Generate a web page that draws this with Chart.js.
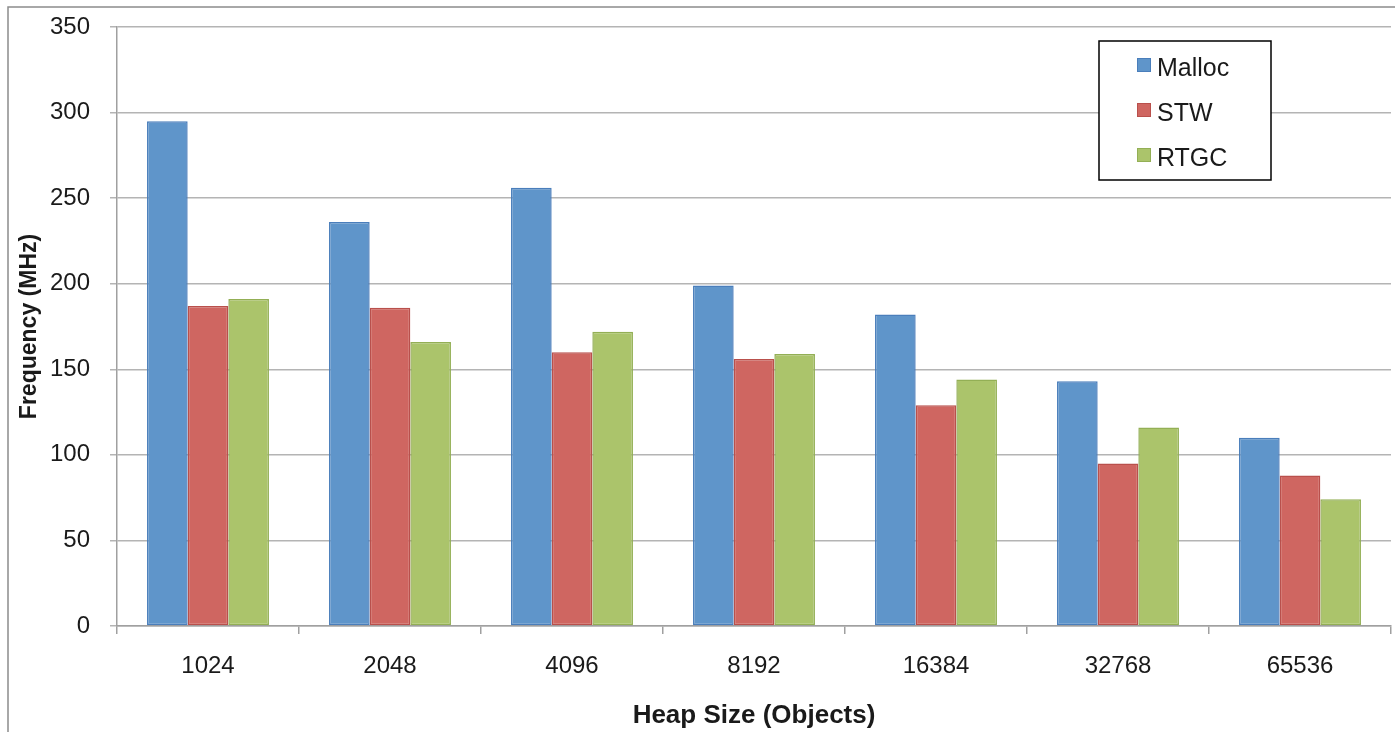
<!DOCTYPE html>
<html>
<head>
<meta charset="utf-8">
<title>Heap size vs frequency</title>
<script src="https://cdn.jsdelivr.net/npm/chart.js@4.4.1/dist/chart.umd.min.js"></script>
<style>
  html, body { margin: 0; padding: 0; background: #fff; }
  #wrap { position: relative; width: 1395px; height: 732px; }
</style>
</head>
<body>
<div id="wrap"><canvas id="chart" width="1395" height="732"></canvas></div>
<script>
// heap sizes (objects)
const heapSizes = ['1024', '2048', '4096', '8192', '16384', '32768', '65536'];

// frequency per allocator (MHz)
const mallocFreq = [295, 236, 256, 199, 182, 143, 110];
const stwFreq    = [187, 186, 160, 156, 129, 95, 88];
const rtgcFreq   = [191, 166, 172, 159, 144, 116, 74];

const yTicks = [0, 50, 100, 150, 200, 250, 300, 350];

const palette = {
  malloc: { fill: '#5F95CA', edge: '#4A7EBB' },
  stw:    { fill: '#CF6661', edge: '#B9504C' },
  rtgc:   { fill: '#ABC46B', edge: '#93AF55' },
  grid: '#B4B4B4',
  axis: '#A0A0A0',
  text: '#1A1A1A'
};

const FONT = "'Liberation Sans', Arial, Helvetica, sans-serif";

// outer frame around the whole figure
const frame = {
  id: 'frame',
  beforeDraw(chart) {
    const ctx = chart.ctx;
    ctx.save();
    ctx.strokeStyle = '#8C8C8C';
    ctx.lineWidth = 1.5;
    ctx.strokeRect(8, 7, 1400, 740);
    ctx.restore();
  }
};

// boxed legend inside the plot, upper right
const boxLegend = {
  id: 'boxLegend',
  afterDraw(chart) {
    const ctx = chart.ctx;
    const x = 1099, y = 41, w = 172, h = 139;
    ctx.save();
    ctx.fillStyle = '#fff';
    ctx.fillRect(x, y, w, h);
    ctx.strokeStyle = '#000';
    ctx.lineWidth = 1.5;
    ctx.strokeRect(x, y, w, h);
    ctx.font = '25px ' + FONT;
    ctx.textBaseline = 'middle';
    chart.data.datasets.forEach((ds, i) => {
      const cy = y + 26 + i * 45;
      ctx.fillStyle = ds.backgroundColor;
      ctx.strokeStyle = ds.borderColor;
      ctx.lineWidth = 1;
      ctx.fillRect(x + 38, cy - 9, 14, 14);
      ctx.strokeRect(x + 38.5, cy - 8.5, 13, 13);
      ctx.fillStyle = palette.text;
      ctx.fillText(ds.label, x + 58, cy + 2);
    });
    ctx.restore();
  }
};

new Chart(document.getElementById('chart'), {
  type: 'bar',
  data: {
    labels: heapSizes,
    datasets: [
      { label: 'Malloc', data: mallocFreq, backgroundColor: palette.malloc.fill, borderColor: palette.malloc.edge, borderWidth: 1.5 },
      { label: 'STW',    data: stwFreq,    backgroundColor: palette.stw.fill,    borderColor: palette.stw.edge,    borderWidth: 1.5 },
      { label: 'RTGC',   data: rtgcFreq,   backgroundColor: palette.rtgc.fill,   borderColor: palette.rtgc.edge,   borderWidth: 1.5 }
    ]
  },
  options: {
    responsive: false,
    animation: false,
    devicePixelRatio: 1,
    layout: { padding: { top: 27, right: 4, bottom: 0, left: 0 } },
    datasets: {
      bar: { categoryPercentage: 0.67, barPercentage: 1.0, borderSkipped: false }
    },
    plugins: {
      legend: { display: false },
      tooltip: { enabled: false }
    },
    scales: {
      x: {
        grid: {
          offset: true,
          drawOnChartArea: false,
          drawTicks: true,
          tickLength: 8,
          color: palette.axis,
          lineWidth: 1.5
        },
        border: { color: palette.axis, width: 1.5 },
        ticks: { color: palette.text, font: { family: FONT, size: 24 }, padding: 18 },
        title: {
          display: true,
          text: 'Heap Size (Objects)',
          color: palette.text,
          font: { family: FONT, size: 26, weight: 'bold' },
          padding: { top: 0, bottom: 1 }
        },
        afterFit(scale) { scale.height = 106; }
      },
      y: {
        min: 0,
        max: 350,
        afterBuildTicks(scale) { scale.ticks = yTicks.map(v => ({ value: v })); },
        grid: {
          drawTicks: true,
          tickLength: 7,
          color: palette.grid,
          lineWidth: 1.5
        },
        border: { color: palette.axis, width: 1.5 },
        ticks: { color: palette.text, font: { family: FONT, size: 24 }, padding: 20 },
        title: {
          display: true,
          text: 'Frequency (MHz)',
          color: palette.text,
          font: { family: FONT, size: 23, weight: 'bold' },
          padding: { top: 16, bottom: 0 }
        },
        afterFit(scale) {
          scale.width = 117;
          scale.paddingTop = 0;
          scale.paddingBottom = 0;
        }
      }
    }
  },
  plugins: [frame, boxLegend]
});
</script>
</body>
</html>
